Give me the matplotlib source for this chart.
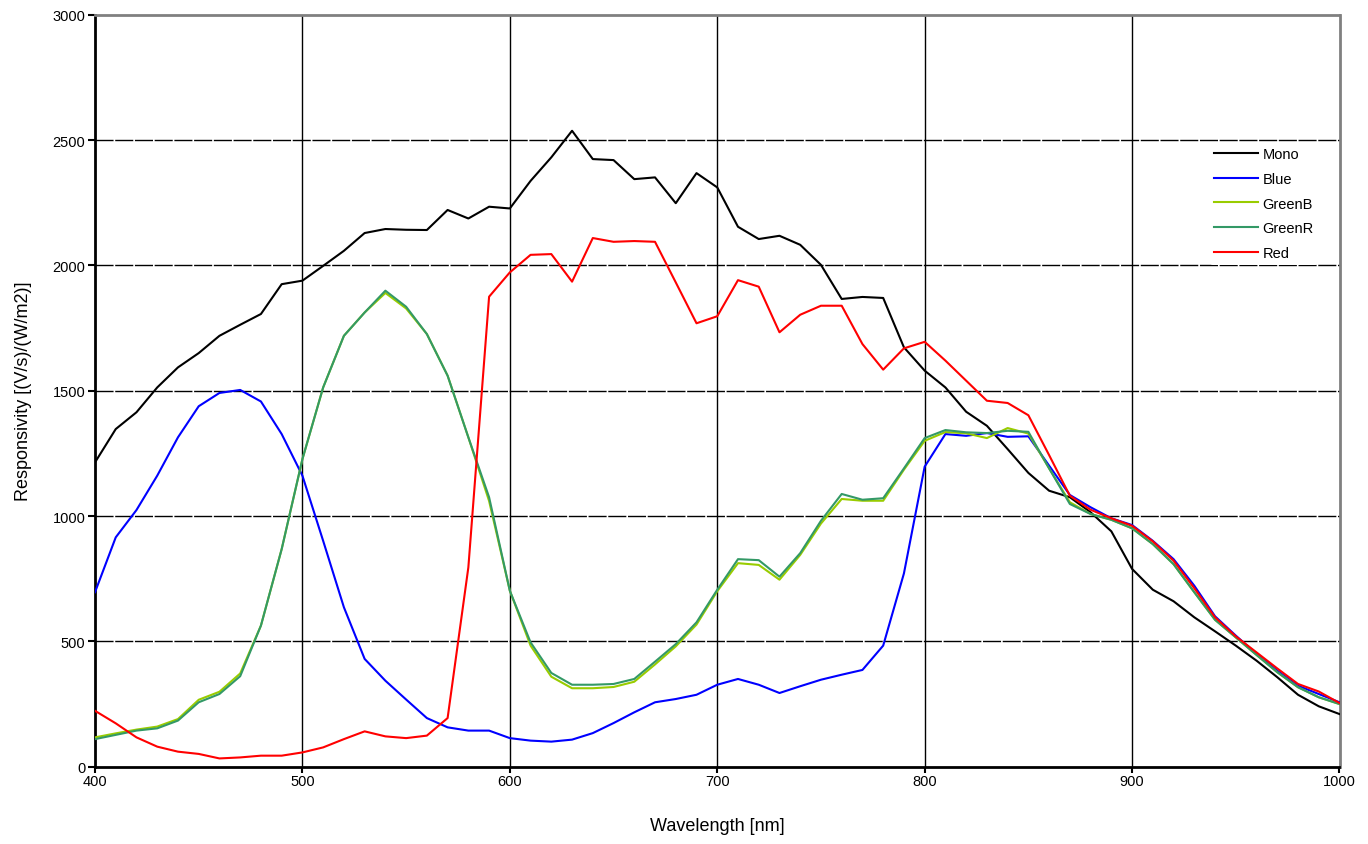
import matplotlib
matplotlib.use("Agg")
import matplotlib.pyplot as plt
import numpy as np

plt.rcParams['font.family'] = ['Liberation Sans', 'DejaVu Sans']
plt.rcParams['lines.scale_dashes'] = False

wavelength = list(range(400, 1001, 10))

mono = [1214, 1347, 1414, 1513, 1593, 1650, 1719, 1763, 1806, 1925,
        1939, 1998, 2058, 2129, 2145, 2142, 2141, 2221, 2187, 2234,
        2227, 2337, 2431, 2537, 2424, 2420, 2344, 2351, 2248, 2368,
        2311, 2154, 2105, 2118, 2082, 2002, 1866, 1874, 1870, 1673,
        1580, 1513, 1416, 1360, 1267, 1172, 1101, 1075, 1015, 939,
        789, 706, 660, 596, 540, 483, 423, 357, 287, 241, 210]

blue = [696, 915, 1024, 1161, 1314, 1438, 1491, 1503, 1457, 1327,
        1161, 901, 636, 430, 343, 268, 194, 157, 144, 144,
        114, 104, 100, 108, 134, 174, 217, 257, 270, 287,
        327, 350, 327, 294, 321, 347, 367, 386, 483, 771,
        1197, 1327, 1320, 1331, 1316, 1318, 1201, 1084, 1035, 991,
        964, 901, 828, 722, 600, 523, 450, 383, 323, 290, 257]

greenB = [117, 133, 148, 160, 190, 267, 299, 372, 563, 868,
          1227, 1513, 1719, 1812, 1890, 1828, 1726, 1560, 1314, 1060,
          702, 483, 359, 313, 313, 318, 339, 408, 480, 567,
          700, 812, 805, 746, 845, 970, 1068, 1061, 1061, 1185,
          1300, 1335, 1330, 1311, 1351, 1329, 1190, 1055, 1008, 985,
          951, 888, 808, 696, 586, 516, 446, 377, 317, 277, 250]

greenR = [110, 127, 144, 153, 184, 257, 290, 361, 563, 868,
          1227, 1513, 1719, 1812, 1899, 1835, 1726, 1560, 1314, 1075,
          702, 496, 374, 327, 327, 330, 350, 419, 489, 576,
          706, 828, 824, 758, 852, 981, 1088, 1065, 1071, 1190,
          1311, 1343, 1334, 1331, 1340, 1336, 1190, 1048, 1008, 985,
          951, 888, 808, 696, 586, 516, 446, 377, 317, 277, 250]

red = [223, 173, 117, 80, 60, 51, 33, 37, 44, 44,
       57, 77, 110, 141, 121, 114, 124, 194, 795, 1875,
       1972, 2042, 2045, 1935, 2109, 2094, 2097, 2094, 1932, 1769,
       1797, 1941, 1915, 1733, 1803, 1839, 1839, 1686, 1584, 1669,
       1695, 1620, 1540, 1460, 1451, 1402, 1243, 1081, 1025, 991,
       961, 899, 822, 712, 596, 520, 456, 392, 330, 300, 254]

series_names = ['Mono', 'Blue', 'GreenB', 'GreenR', 'Red']
series_colors = ['#000000', '#0000FF', '#99CC00', '#339966', '#FF0000']
series_data = [mono, blue, greenB, greenR, red]

fig = plt.figure(figsize=(13.68, 8.45), dpi=100)
ax = fig.add_axes([95 / 1368, (845 - 767.7) / 845, (1339.5 - 95) / 1368, (767.7 - 15.7) / 845])

ax.set_xlim(400, 1000)
ax.set_ylim(0, 3000)
ax.set_xticks(range(400, 1001, 100))
ax.set_yticks(range(0, 3001, 500))

# grid
for xv in range(500, 1000, 100):
    ax.axvline(xv, color='black', lw=1.0, zorder=1)
for yv in range(500, 3000, 500):
    ax.axhline(yv, color='black', lw=1.0, linestyle=(0, (13, 1.2)), zorder=1)

for name, col, data in zip(series_names, series_colors, series_data):
    ax.plot(wavelength, data, color=col, lw=1.5, label=name, zorder=3)

for s in ['left', 'bottom']:
    ax.spines[s].set_color('black')
    ax.spines[s].set_linewidth(2.0)
for s in ['top', 'right']:
    ax.spines[s].set_color('#808080')
    ax.spines[s].set_linewidth(2.0)

ax.tick_params(axis='both', direction='out', width=1.5, labelsize=10.5,
               colors='black')
ax.tick_params(axis='x', length=4, pad=1)
ax.tick_params(axis='y', length=5, pad=2)

ax.set_xlabel('Wavelength [nm]', fontsize=13, labelpad=21)
ax.set_ylabel('Responsivity [(V/s)/(W/m2)]', fontsize=13, labelpad=15)

leg = ax.legend(loc='upper left', bbox_to_anchor=(0.89, 0.84), frameon=True,
                fontsize=10.5, handlelength=3.0, handletextpad=0.3,
                labelspacing=0.75, borderpad=0.3)
leg.get_frame().set_edgecolor('none')
leg.get_frame().set_facecolor('white')
leg.get_frame().set_alpha(1.0)

fig.savefig('out.png', dpi=100)
